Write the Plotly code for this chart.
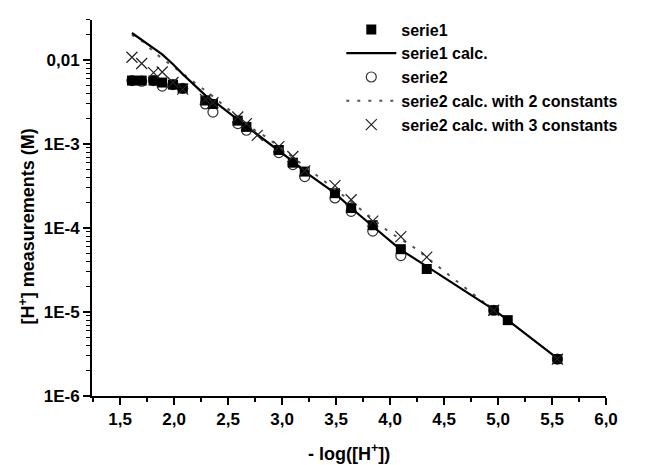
import plotly.graph_objects as go

# ---- data ----
serie1_x = [1.61, 1.70, 1.81, 1.89, 1.99, 2.08, 2.29, 2.36, 2.59, 2.67, 2.97, 3.10, 3.21,
            3.49, 3.64, 3.84, 4.10, 4.34, 4.96, 5.09, 5.55]
serie1_y = [0.0057, 0.0057, 0.0057, 0.0054, 0.0051, 0.0046, 0.0033, 0.0030, 0.0019, 0.0016,
            0.00085, 0.00060, 0.00047, 0.00026, 0.000173, 0.000108, 5.6e-5, 3.25e-5,
            1.05e-5, 8.0e-6, 2.75e-6]

calc1_x = serie1_x
calc1_y = [0.021, 0.0173, 0.0139, 0.0117, 0.0089, 0.0068, 0.0038, 0.0033, 0.00195, 0.00163,
           0.00085, 0.00062, 0.00047, 0.00026, 0.000173, 0.000105, 5.5e-5, 3.5e-5,
           1.07e-5, 8.0e-6, 2.8e-6]

serie2_x = [1.61, 1.70, 1.81, 1.89, 1.99, 2.08, 2.29, 2.36, 2.59, 2.67, 2.97, 3.10, 3.21,
            3.49, 3.64, 3.84, 4.10, 4.96, 5.55]
serie2_y = [0.0057, 0.0056, 0.0057, 0.0049, 0.0051, 0.0046, 0.0030, 0.0024, 0.00175, 0.00146,
            0.00079, 0.00057, 0.00041, 0.000228, 0.000158, 9.2e-5, 4.7e-5, 1.05e-5, 2.75e-6]

calc2_x = [1.61, 1.73, 1.82, 2.08, 2.36, 2.59, 2.75, 2.85, 3.07, 3.37, 3.57, 3.99, 4.22,
           4.42, 4.63, 4.85, 4.96]
calc2_y = [0.020, 0.016, 0.0122, 0.0068, 0.0037, 0.0021, 0.00146, 0.00122, 0.00075, 0.00038,
           0.000242, 9.0e-5, 5.9e-5, 3.7e-5, 2.27e-5, 1.38e-5, 1.05e-5]

calc3_x = [1.61, 1.70, 1.81, 1.89, 1.99, 2.08, 2.29, 2.36, 2.59, 2.67, 2.77, 2.97, 3.10, 3.21,
           3.49, 3.64, 3.84, 4.10, 4.34, 4.96, 5.55]
calc3_y = [0.0108, 0.0091, 0.0071, 0.0072, 0.0054, 0.0045, 0.0034, 0.0031, 0.0021, 0.00175,
           0.00127, 0.00093, 0.00071, 0.00048, 0.00032, 0.000217, 0.000121, 7.9e-5, 4.5e-5,
           1.05e-5, 2.75e-6]

x_ticks = [1.5, 2.0, 2.5, 3.0, 3.5, 4.0, 4.5, 5.0, 5.5, 6.0]
x_ticktext = ["1,5", "2,0", "2,5", "3,0", "3,5", "4,0", "4,5", "5,0", "5,5", "6,0"]
y_ticks = [1e-6, 1e-5, 1e-4, 1e-3, 1e-2]
y_ticktext = ["1E-6", "1E-5", "1E-4", "1E-3", "0,01"]

FONT = "Liberation Sans, Arial, sans-serif"

fig = go.Figure()

fig.add_trace(go.Scatter(
    x=serie2_x, y=serie2_y, mode="markers", name="serie2", legendrank=3,
    legendgroup="g3",
    marker=dict(symbol="circle-open", size=10, color="#333333", line=dict(width=1.2))))
fig.add_trace(go.Scatter(
    x=serie1_x, y=serie1_y, mode="markers", name="serie1", legendrank=1,
    legendgroup="g1",
    marker=dict(symbol="square", size=10, color="black")))
fig.add_trace(go.Scatter(
    x=calc2_x, y=calc2_y, mode="lines", name="serie2 calc. with 2 constants", legendrank=4,
    legendgroup="g4",
    line=dict(color="#555555", width=2, dash="3px,8px")))
fig.add_trace(go.Scatter(
    x=calc1_x, y=calc1_y, mode="lines", name="serie1 calc.", legendrank=2,
    legendgroup="g2",
    line=dict(color="black", width=2.2)))
fig.add_trace(go.Scatter(
    x=calc3_x, y=calc3_y, mode="markers", name="serie2 calc. with 3 constants", legendrank=5,
    legendgroup="g5",
    marker=dict(symbol="x-thin", size=11, color="black", line=dict(width=1.2, color="#222222"))))

minor_y = [m * 10.0 ** e for e in range(-6, -1) for m in range(2, 10)]

fig.update_layout(
    width=651, height=465,
    margin=dict(l=92, r=45, t=15, b=69),
    paper_bgcolor="white", plot_bgcolor="white",
    font=dict(family=FONT, size=17, color="black", weight="bold"),
    showlegend=True,
    legend=dict(x=0.485, y=1.02, xanchor="left", yanchor="top",
                font=dict(family=FONT, size=16, color="black", weight="bold"),
                bgcolor="rgba(0,0,0,0)", tracegroupgap=0, itemwidth=50),
    xaxis=dict(range=[1.24, 6.0], tickmode="array", tickvals=x_ticks, ticktext=x_ticktext,
               showgrid=False, zeroline=False, showline=True, linecolor="black", linewidth=2,
               ticks="outside", ticklen=7, tickwidth=2, tickcolor="black",
               minor=dict(ticks="outside", ticklen=4, tickwidth=1.5, tickcolor="black",
                          tickvals=[1.25, 1.75, 2.25, 2.75, 3.25, 3.75, 4.25, 4.75, 5.25, 5.75]),
               tickfont=dict(family=FONT, size=17, weight="bold")),
    yaxis=dict(type="log", range=[-6, -1.523], tickmode="array", tickvals=y_ticks,
               ticktext=y_ticktext, showgrid=False, zeroline=False, showline=True,
               linecolor="black", linewidth=2, ticks="outside", ticklen=7, tickwidth=2,
               tickcolor="black",
               minor=dict(ticks="outside", ticklen=4, tickwidth=1, tickcolor="black",
                          tickvals=minor_y),
               tickfont=dict(family=FONT, size=17, weight="bold")),
    annotations=[
        dict(text="[H<sup>+</sup>] measurements (M)", xref="paper", yref="paper",
             x=-0.125, y=0.45, textangle=-90, showarrow=False,
             xanchor="center", yanchor="middle",
             font=dict(family=FONT, size=18, weight="bold")),
        dict(text="- log([H<sup>+</sup>])", xref="paper", yref="paper",
             x=0.5, y=-0.15, showarrow=False, xanchor="center", yanchor="middle",
             font=dict(family=FONT, size=18, weight="bold")),
    ],
)

fig.write_html("out.html")
